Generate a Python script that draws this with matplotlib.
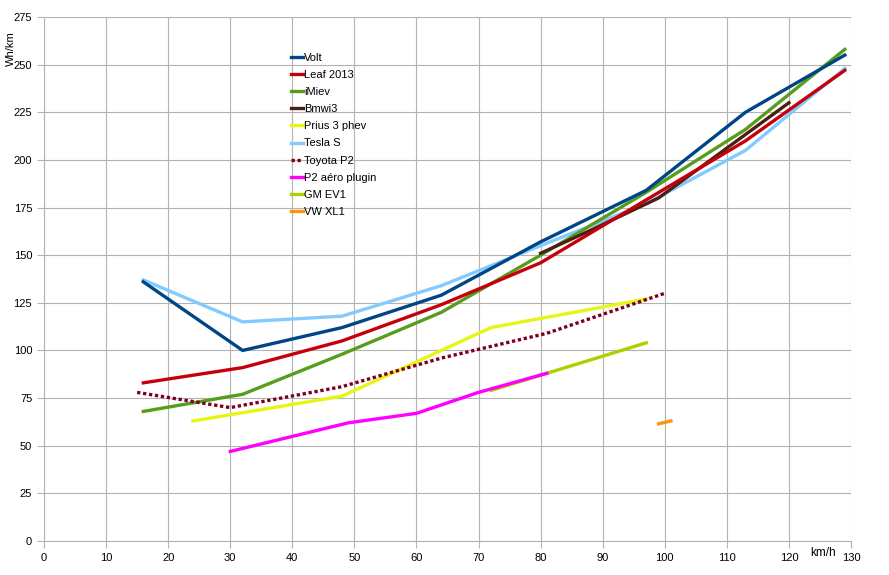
import matplotlib
matplotlib.use("Agg")
import matplotlib.pyplot as plt

plt.rcParams['font.family'] = ['Liberation Sans', 'DejaVu Sans']

# speed (km/h) and consumption (Wh/km) per vehicle
volt_x = [16, 32, 48, 64, 80, 97, 113, 129]
volt_y = [136, 100, 112, 129, 157, 184, 225, 255]
leaf_x = [16, 32, 48, 64, 80, 97, 113, 129]
leaf_y = [83, 91, 105, 124, 146, 179, 210, 247]
imiev_x = [16, 32, 48, 64, 80, 97, 113, 129]
imiev_y = [68, 77, 98, 120, 150, 183, 216, 258]
bmw_x = [80, 88, 99, 120]
bmw_y = [151, 163, 180, 230]
prius_x = [24, 48, 72, 97]
prius_y = [63, 76, 112, 127]
tesla_x = [16, 32, 48, 64, 80, 97, 113, 129]
tesla_y = [137, 115, 118, 134, 155, 177, 205, 248]
toyota_x = [15, 30, 48, 64, 81, 100]
toyota_y = [78, 70, 81, 96, 109, 130]
p2aero_x = [30, 49, 60, 70, 81]
p2aero_y = [47, 62, 67, 78, 88]
ev1_x = [72, 81, 97]
ev1_y = [79, 88, 104]
xl1_x = [99, 101]
xl1_y = [61.5, 63]

fig = plt.figure(figsize=(8.89, 5.75), dpi=100)
ax = fig.add_axes([44/889, 34/575, (851-44)/889, (541-17)/575])

lw = 2.4
ax.plot(volt_x, volt_y, color='#004586', lw=lw, label='Volt', zorder=5)
ax.plot(leaf_x, leaf_y, color='#c5000b', lw=lw, label='Leaf 2013', zorder=4)
ax.plot(imiev_x, imiev_y, color='#579d1c', lw=lw, label='iMiev', zorder=3)
ax.plot(bmw_x, bmw_y, color='#4b2012', lw=lw, label='Bmwi3', zorder=3.5)
ax.plot(prius_x, prius_y, color='#e6f514', lw=lw, label='Prius 3 phev', zorder=3)
ax.plot(tesla_x, tesla_y, color='#83caff', lw=lw, label='Tesla S', zorder=2)
ax.plot(toyota_x, toyota_y, color='#7e0021', lw=lw, ls=(0, (1, 0.8)), label='Toyota P2', zorder=3)
ax.plot(ev1_x, ev1_y, color='#aecf00', lw=lw, label='GM EV1', zorder=2.5)
ax.plot(p2aero_x, p2aero_y, color='#ff00ff', lw=lw, label='P2 aéro plugin', zorder=3)
ax.plot(xl1_x, xl1_y, color='#ff950e', lw=lw, label='VW XL1', zorder=3)

ax.set_xlim(0, 130)
ax.set_ylim(0, 275)
ax.set_xticks(range(0, 131, 10))
ax.set_yticks(range(0, 276, 25))
ax.grid(True, color='#b3b3b3', lw=0.8)
ax.set_axisbelow(True)
for s in ['top', 'right']:
    ax.spines[s].set_visible(False)
for s in ['left', 'bottom']:
    ax.spines[s].set_color('#b3b3b3')
ax.tick_params(colors='#b3b3b3', labelcolor='black', labelsize=8, length=5, width=0.8)

ax.text(-0.041, 0.94, 'Wh/km', transform=ax.transAxes, rotation=90,
        fontsize=8, ha='center', va='center')
ax.text(0.966, -0.022, 'km/h', transform=ax.transAxes, fontsize=8.5,
        ha='center', va='center')

handles, labels = ax.get_legend_handles_labels()
order = ['Volt', 'Leaf 2013', 'iMiev', 'Bmwi3', 'Prius 3 phev', 'Tesla S',
         'Toyota P2', 'P2 aéro plugin', 'GM EV1', 'VW XL1']
hmap = dict(zip(labels, handles))
ax.legend([hmap[l] for l in order], order, loc='upper left',
          bbox_to_anchor=(0.3, 0.94), frameon=False, fontsize=8,
          handlelength=1.1, handletextpad=0.15, labelspacing=0.64,
          borderaxespad=0)

fig.savefig('out.png', dpi=100)
